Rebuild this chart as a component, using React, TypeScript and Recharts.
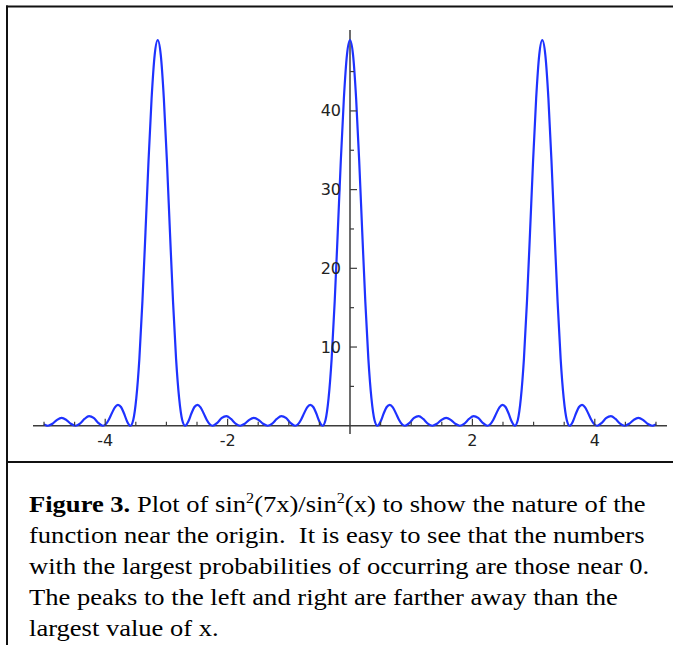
import React from 'react';
import { LineChart, Line, XAxis, YAxis, ReferenceLine, ReferenceDot } from 'recharts';

// x positions (radians) and values of sin^2(7x)/sin^2(x)
const xValues = [
  -5.0, -4.97, -4.937, -4.862, -4.787, -4.712, -4.638, -4.563, -4.488,
  -4.413, -4.339, -4.264, -4.189, -4.114, -4.039,
  -3.992, -3.942, -3.892, -3.842, -3.792, -3.742, -3.692, -3.642, -3.59,
  -3.542, -3.492, -3.442, -3.392, -3.342, -3.292, -3.242, -3.192, -3.142,
  -3.092, -3.042, -2.992, -2.942, -2.892, -2.842, -2.792, -2.742, -2.693,
  -2.642, -2.592, -2.542, -2.492, -2.442, -2.392, -2.342, -2.292, -2.244,
  -2.169, -2.094, -2.02, -1.944, -1.87, -1.795,
  -1.72, -1.646, -1.571, -1.496, -1.421, -1.346,
  -1.271, -1.197, -1.122, -1.047, -0.973, -0.898,
  -0.85, -0.8, -0.75, -0.7, -0.65, -0.6, -0.55, -0.5, -0.449,
  -0.4, -0.35, -0.3, -0.25, -0.2, -0.15, -0.1, -0.05,
  0, 0.05, 0.1, 0.15, 0.2, 0.25, 0.3, 0.35, 0.4, 0.449,
  0.5, 0.55, 0.6, 0.65, 0.7, 0.75, 0.8, 0.85, 0.898,
  0.973, 1.047, 1.122, 1.197, 1.271, 1.346,
  1.421, 1.496, 1.571, 1.646, 1.72, 1.795,
  1.87, 1.944, 2.02, 2.094, 2.169, 2.244,
  2.292, 2.342, 2.392, 2.442, 2.492, 2.542, 2.592, 2.642, 2.693,
  2.742, 2.792, 2.842, 2.892, 2.942, 2.992, 3.042, 3.092, 3.142,
  3.192, 3.242, 3.292, 3.342, 3.392, 3.442, 3.492, 3.542, 3.59,
  3.642, 3.692, 3.742, 3.792, 3.842, 3.892, 3.942, 3.992, 4.039,
  4.114, 4.189, 4.264, 4.339, 4.413, 4.488,
  4.563, 4.638, 4.712, 4.787, 4.862, 4.937,
  4.97, 5.0,
];

const yValues = [
  0.2, 0.06, 0, 0.25, 0.75, 1.0, 0.75, 0.25, 0,
  0.28, 0.86, 1.23, 1.0, 0.37, 0,
  0.19, 0.77, 1.59, 2.33, 2.66, 2.38, 1.55, 0.54, 0,
  0.74, 3.5, 8.5, 15.8, 24.6, 33.7, 41.6, 47.1, 49,
  47.1, 41.6, 33.7, 24.6, 15.8, 8.5, 3.5, 0.74, 0,
  0.54, 1.55, 2.38, 2.66, 2.33, 1.59, 0.77, 0.19, 0,
  0.37, 1.0, 1.23, 0.86, 0.28, 0,
  0.25, 0.75, 1.0, 0.75, 0.25, 0,
  0.28, 0.86, 1.23, 1.0, 0.37, 0,
  0.19, 0.77, 1.59, 2.33, 2.66, 2.38, 1.55, 0.54, 0,
  0.74, 3.5, 8.5, 15.8, 24.6, 33.7, 41.6, 47.1,
  49, 47.1, 41.6, 33.7, 24.6, 15.8, 8.5, 3.5, 0.74, 0,
  0.54, 1.55, 2.38, 2.66, 2.33, 1.59, 0.77, 0.19, 0,
  0.37, 1.0, 1.23, 0.86, 0.28, 0,
  0.25, 0.75, 1.0, 0.75, 0.25, 0,
  0.28, 0.86, 1.23, 1.0, 0.37, 0,
  0.19, 0.77, 1.59, 2.33, 2.66, 2.38, 1.55, 0.54, 0,
  0.74, 3.5, 8.5, 15.8, 24.6, 33.7, 41.6, 47.1, 49,
  47.1, 41.6, 33.7, 24.6, 15.8, 8.5, 3.5, 0.74, 0,
  0.54, 1.55, 2.38, 2.66, 2.33, 1.59, 0.77, 0.19, 0,
  0.37, 1.0, 1.23, 0.86, 0.28, 0,
  0.25, 0.75, 1.0, 0.75, 0.25, 0,
  0.06, 0.2,
];

const xDomain = [-5.18, 5.18];
const yDomain = [-1.05, 50.28];
const xMajorTicks = [-4, -2, 2, 4];
const xMinorTicks = [-5, -4.5, -3.5, -3, -2.5, -1.5, -1, -0.5, 0.5, 1, 1.5, 2.5, 3, 3.5, 4.5, 5];
const yMajorTicks = [10, 20, 30, 40];
const yMinorTicks = [5, 15, 25, 35, 45];

const captionLines = [
  'function near the origin.  It is easy to see that the numbers',
  'with the largest probabilities of occurring are those near 0.',
  'The peaks to the left and right are farther away than the',
  'largest value of x.',
];

const data = xValues.map((x, i) => ({ x, y: yValues[i] }));

const AXIS = '#3c3c3c';
const CURVE = '#1e32ff';
const LABEL_FONT = "'DejaVu Sans', sans-serif";
const SERIF = "'Liberation Serif', 'Times New Roman', serif";

const xTickShape = (len: number) => (p: any) => (
  <line x1={p.cx} y1={p.cy} x2={p.cx} y2={p.cy - len} stroke={AXIS} strokeWidth={1.2} />
);

const yTickShape = (len: number, label?: number) => (p: any) => (
  <g>
    <line x1={p.cx} y1={p.cy} x2={p.cx + len} y2={p.cy} stroke={AXIS} strokeWidth={1.2} />
    {label !== undefined && (
      <text
        x={p.cx - 9}
        y={p.cy}
        textAnchor="end"
        dominantBaseline="central"
        fontSize={16}
        fontFamily={LABEL_FONT}
        fill="#222"
      >
        {label}
      </text>
    )}
  </g>
);

export default function App() {
  return (
    <div style={{ position: 'absolute', left: 0, top: 0, width: 673, height: 645, background: '#fff', overflow: 'hidden' }}>
      <div style={{ position: 'absolute', left: 0, top: 0 }}>
        <LineChart width={673} height={470} data={data} margin={{ top: 30, right: 6, bottom: 16, left: 33 }}>
          <XAxis
            type="number"
            dataKey="x"
            domain={xDomain}
            ticks={xMajorTicks}
            interval={0}
            allowDataOverflow
            axisLine={false}
            tickLine={false}
            tickSize={0}
            tickMargin={1}
            height={20}
            tick={{ fontSize: 16, fill: '#222', fontFamily: LABEL_FONT }}
          />
          <YAxis type="number" domain={yDomain} allowDataOverflow hide width={0} />
          <ReferenceLine y={0} stroke={AXIS} strokeWidth={1.5} />
          <ReferenceLine x={0} stroke={AXIS} strokeWidth={1.5} />
          {xMinorTicks.map((t) => (
            <ReferenceDot key={'xm' + t} x={t} y={0} r={1} shape={xTickShape(4)} />
          ))}
          {xMajorTicks.map((t) => (
            <ReferenceDot key={'xM' + t} x={t} y={0} r={1} shape={xTickShape(7)} />
          ))}
          {yMinorTicks.map((t) => (
            <ReferenceDot key={'ym' + t} x={0} y={t} r={1} shape={yTickShape(4)} />
          ))}
          {yMajorTicks.map((t) => (
            <ReferenceDot key={'yM' + t} x={0} y={t} r={1} shape={yTickShape(7, t)} />
          ))}
          <Line
            type="monotone"
            dataKey="y"
            stroke={CURVE}
            strokeWidth={2.2}
            dot={false}
            activeDot={false}
            isAnimationActive={false}
          />
        </LineChart>
      </div>
      <svg width={673} height={645} style={{ position: 'absolute', left: 0, top: 0, pointerEvents: 'none' }}>
        <line x1={7} y1={5.5} x2={7} y2={645} stroke="#111" strokeWidth={2} />
        <line x1={6} y1={6.5} x2={673} y2={6.5} stroke="#111" strokeWidth={2} />
        <line x1={6} y1={462} x2={673} y2={462} stroke="#111" strokeWidth={2} />
        <g transform="translate(29,0) scale(1.155,1)">
          <text x={0} y={512} fontFamily={SERIF} fontSize={23} fill="#000" style={{ whiteSpace: 'pre' }}>
            <tspan fontWeight="bold">Figure 3.</tspan>
            <tspan>{' Plot of sin'}</tspan>
            <tspan fontSize={14} dy={-9}>2</tspan>
            <tspan dy={9}>{'(7x)/sin'}</tspan>
            <tspan fontSize={14} dy={-9}>2</tspan>
            <tspan dy={9}>{'(x) to show the nature of the'}</tspan>
          </text>
          {captionLines.map((line, i) => (
            <text key={i} x={0} y={543 + i * 31} fontFamily={SERIF} fontSize={23} fill="#000" style={{ whiteSpace: 'pre' }}>
              {line}
            </text>
          ))}
        </g>
      </svg>
    </div>
  );
}
